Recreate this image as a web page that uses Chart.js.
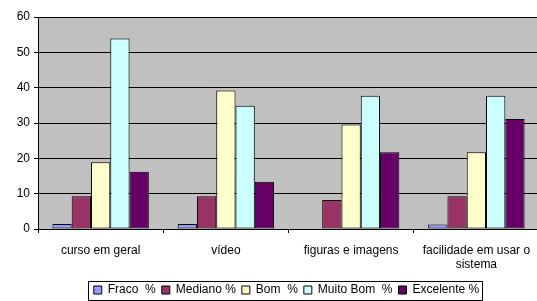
<!DOCTYPE html>
<html>
<head>
<meta charset="utf-8">
<script src="https://cdn.jsdelivr.net/npm/chart.js@4"></script>
<style>
  html, body { margin: 0; padding: 0; background: #fff; overflow: hidden; }
  #wrap { width: 537px; height: 301px; overflow: hidden; }
</style>
</head>
<body>
<div id="wrap"><canvas id="chart" width="541" height="301"></canvas></div>
<script>
const categories = ['curso em geral', 'vídeo', 'figuras e imagens', ['facilidade em usar o', 'sistema']];
const seriesNames = ['Fraco  %', 'Mediano %', 'Bom  %', 'Muito Bom  %', 'Excelente %'];
const fraco     = [1.4, 1.4, 0, 1.3];
const mediano   = [9.3, 9.3, 8.2, 9.3];
const bom       = [18.9, 39.2, 29.6, 21.7];
const muitoBom  = [53.9, 34.9, 37.7, 37.7];
const excelente = [16.2, 13.4, 21.7, 31.1];
const yTicks = [0, 10, 20, 30, 40, 50, 60];

const colors = ['#9999FF', '#993366', '#FFFFCC', '#CCFFFF', '#660066'];
const values = [fraco, mediano, bom, muitoBom, excelente];
const FONT = { family: 'Liberation Sans, Arial', size: 12 };

// fundo cinza da area do grafico
const plotBg = {
    id: 'plotBg',
    beforeDraw(chart) {
        const { ctx, chartArea: { left, top, right, bottom } } = chart;
        ctx.save();
        ctx.fillStyle = '#C0C0C0';
        ctx.fillRect(left, top, right - left, bottom - top);
        ctx.restore();
    }
};

// legenda um pouco para a direita + moldura
const legendBox = {
    id: 'legendBox',
    afterLayout(chart) {
        chart.legend.left += 17;
        chart.legend.right += 17;
    },
    afterDraw(chart) {
        const lg = chart.legend;
        const rowW = lg.lineWidths ? lg.lineWidths[0] : lg.width;
        const l = lg.left + (lg.width - rowW) / 2 - 3;
        const w = rowW + 3;
        const ctx = chart.ctx;
        ctx.save();
        ctx.strokeStyle = '#000';
        ctx.lineWidth = 1;
        ctx.strokeRect(Math.round(l) + 0.5, Math.round(lg.top + 3) + 0.5, Math.round(w), 19);
        ctx.restore();
    }
};

new Chart(document.getElementById('chart'), {
    type: 'bar',
    data: {
        labels: categories,
        datasets: seriesNames.map((name, i) => ({
            label: name,
            data: values[i],
            backgroundColor: colors[i],
            borderColor: '#000',
            borderWidth: 1,
            borderSkipped: false,
            categoryPercentage: 0.77,
            barPercentage: 1
        }))
    },
    options: {
        responsive: false,
        animation: false,
        layout: { padding: { top: 17, right: 2, left: 0, bottom: -5 } },
        plugins: {
            tooltip: { enabled: false },
            legend: {
                position: 'bottom',
                labels: {
                    boxWidth: 8,
                    boxHeight: 8,
                    padding: 6,
                    color: '#000',
                    font: FONT,
                    generateLabels(chart) {
                        return chart.data.datasets.map((ds, i) => ({
                            text: ds.label,
                            fillStyle: ds.backgroundColor,
                            strokeStyle: '#000',
                            lineWidth: 1,
                            datasetIndex: i
                        }));
                    }
                }
            }
        },
        scales: {
            x: {
                offset: true,
                grid: { offset: true, drawOnChartArea: false, color: '#000', tickLength: 4 },
                border: { color: '#000' },
                ticks: {
                    color: '#000',
                    maxRotation: 0,
                    autoSkip: false,
                    padding: 10,
                    font: FONT
                },
                afterFit(scale) { scale.height = 49; }
            },
            y: {
                min: 0,
                max: 60,
                afterBuildTicks(scale) { scale.ticks = yTicks.map(v => ({ value: v })); },
                grid: { color: '#000', tickLength: 4 },
                border: { color: '#000' },
                ticks: {
                    color: '#000',
                    padding: 4,
                    font: FONT
                },
                afterFit(scale) { scale.width = 38; }
            }
        }
    },
    plugins: [plotBg, legendBox]
});
</script>
</body>
</html>
